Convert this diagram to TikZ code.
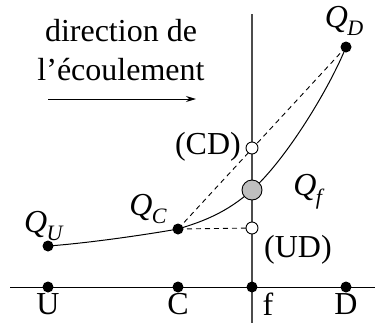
\documentclass[tikz,border=0pt]{standalone}
\usepackage{fontspec}
\setmainfont{Liberation Serif}
\usetikzlibrary{arrows.meta}
\newcommand{\Qs}[1]{\textit{Q}\kern-0.02em\raisebox{-0.27em}{\fontsize{22}{22}\selectfont\textit{#1}}}
\begin{document}
\begin{tikzpicture}[x=1pt,y=-1pt,
  lbl/.style={font=\fontsize{32}{32}\selectfont, inner sep=0pt},
  dot/.style={circle, fill=black, minimum size=11pt, inner sep=0pt},
  odot/.style={circle, draw=black, fill=white, line width=0.9pt, minimum size=12pt, inner sep=0pt},
  gdot/.style={circle, draw=black, fill=black!25, line width=0.9pt, minimum size=20pt, inner sep=0pt},
  curve/.style={line width=1pt},
  dsh/.style={line width=0.9pt, dash pattern=on 5pt off 4pt},
  axis/.style={line width=1pt},
  vline/.style={line width=1.3pt, draw=black!70}]
\useasboundingbox (0,0) rectangle (375,325);
% positions
\coordinate (pU) at (48,246);
\coordinate (pC) at (178,229);
\coordinate (pf) at (252,190);
\coordinate (pD) at (346,47);
\coordinate (pCD) at (252,148);
\coordinate (pUD) at (252,228);
\coordinate (aU) at (48,287);
\coordinate (aC) at (178,287);
\coordinate (af) at (252,287);
\coordinate (aD) at (346,287);
\coordinate (axL) at (10,287);
\coordinate (axR) at (375,287);
\coordinate (vT) at (252,14);
\coordinate (vB) at (252,323);
\coordinate (arL) at (48,99);
\coordinate (arR) at (196,99);
% lines
\draw[vline] (vT) -- (vB);
\draw[axis] (axL) -- (axR);
\draw[dsh] (pC) -- (pD);
\draw[dsh] (pC) -- (pUD);
\draw[curve] (pU) .. controls (90,243) and (150,234) .. (pC)
  .. controls (203,221.5) and (227,212.5) .. (pf)
  .. controls (287,158.5) and (330,87) .. (pD);
\draw[line width=1pt, -{Stealth[length=10pt, width=6pt]}] (arL) -- (arR);
% dots
\node[dot] (nU) at (pU) {};
\node[dot] (nC) at (pC) {};
\node[dot] (nD) at (pD) {};
\node[gdot] (nf) at (pf) {};
\node[odot] (nCD) at (pCD) {};
\node[odot] (nUD) at (pUD) {};
\node[dot] (xU) at (aU) {};
\node[dot] (xC) at (aC) {};
\node[dot] (xf) at (af) {};
\node[dot] (xD) at (aD) {};
% labels
\node[lbl] (t1) at (121,31) {direction de};
\node[lbl] (t2) at (121,70) {l’écoulement};
\node[lbl] (lQD) at (344,21) {\Qs{D}};
\node[lbl] (lQC) at (148,209) {\Qs{C}};
\node[lbl] (lQf) at (309,192) {\Qs{f}};
\node[lbl] (lQU) at (44,226) {\Qs{U}};
\node[lbl, anchor=east] (lCD) at (241,147) {(CD)};
\node[lbl, anchor=west] (lUD) at (264,250) {(UD)};
\node[lbl] (lU) at (48,304) {U};
\node[lbl] (lC) at (178,304) {C};
\node[lbl] (lf) at (268,304) {f};
\node[lbl] (lD) at (346,304) {D};
\end{tikzpicture}
\end{document}
